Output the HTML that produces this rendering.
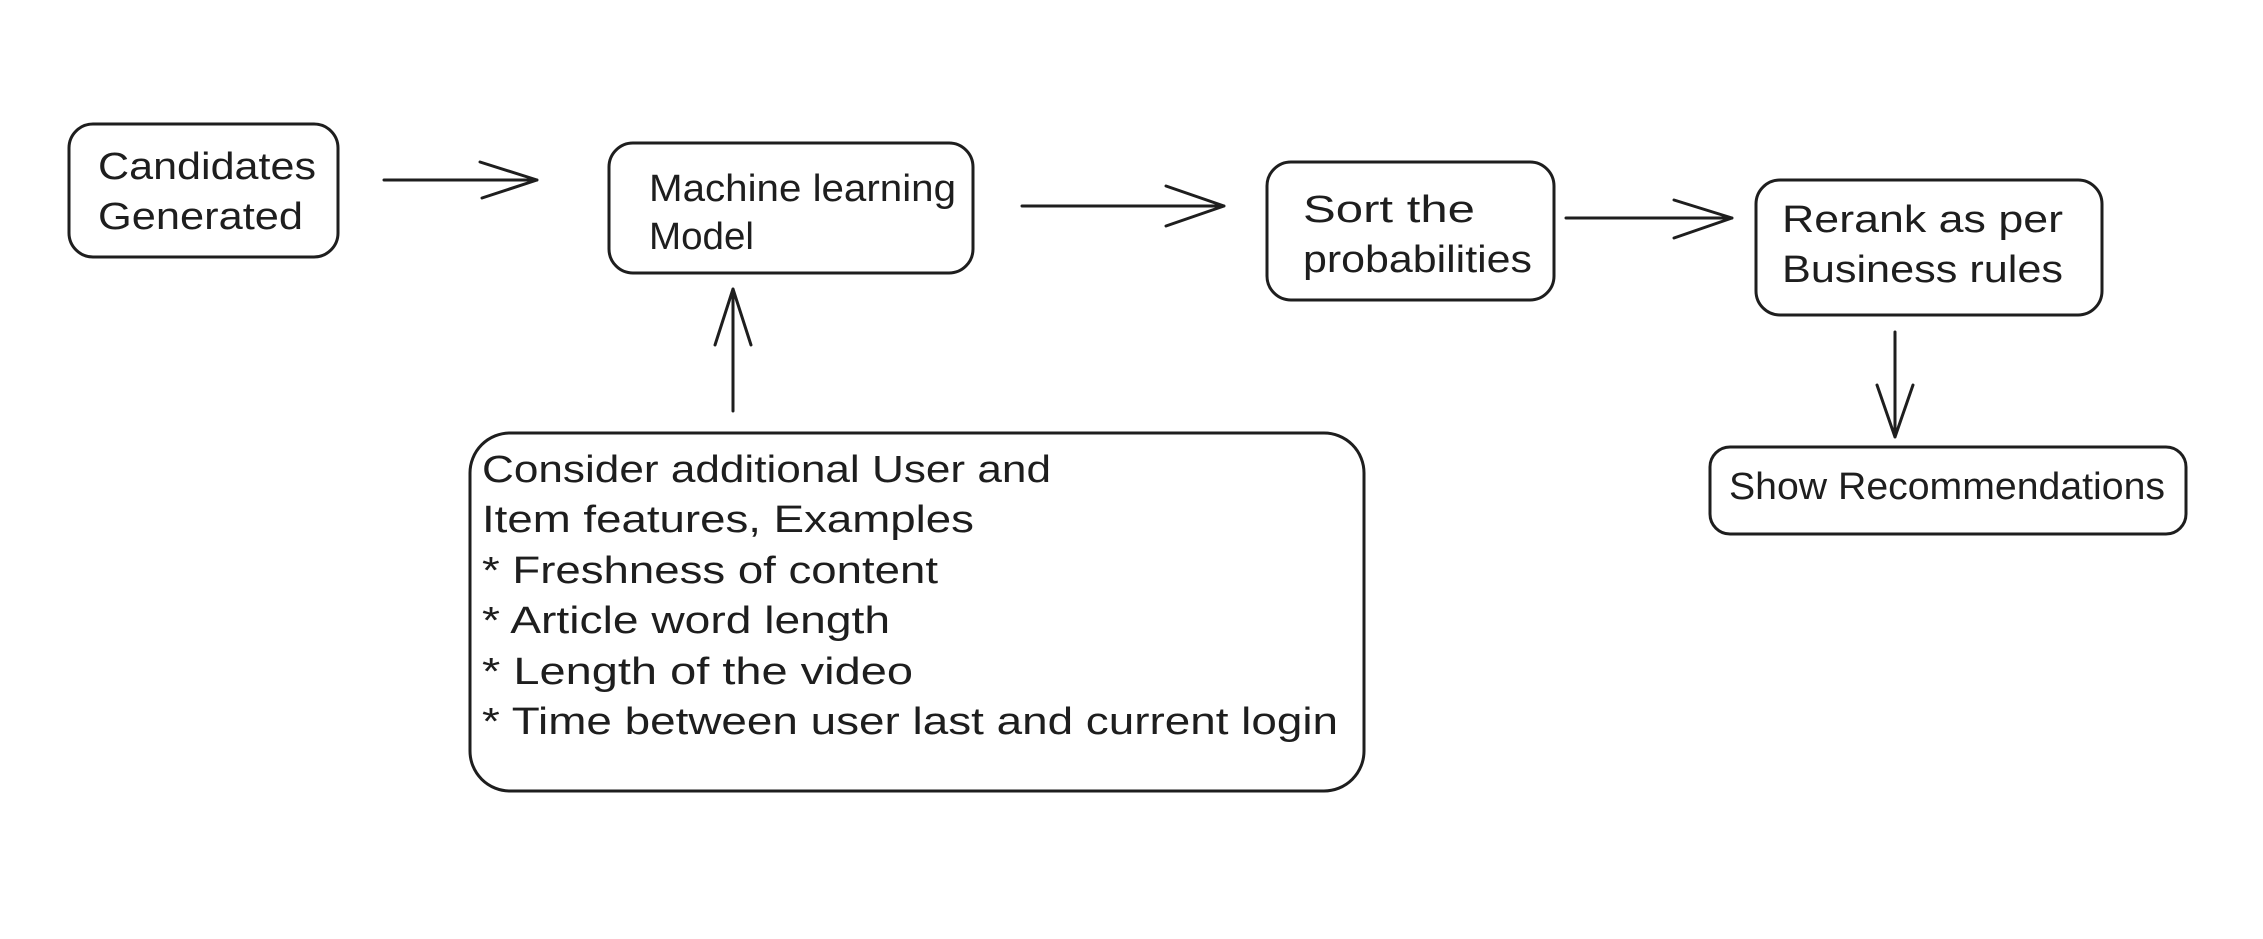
<!DOCTYPE html>
<html><head><meta charset="utf-8"><style>
html,body{margin:0;padding:0;background:#fff;}
svg{display:block;}
text{font-family:"Liberation Sans",sans-serif;font-size:38px;fill:#1e1e1e;}
</style></head><body>
<svg width="2263" height="939" viewBox="0 0 2263 939" xmlns="http://www.w3.org/2000/svg">
<g fill="none" stroke="#1e1e1e" stroke-width="3" stroke-linecap="round" stroke-linejoin="round">
<rect x="69" y="124" width="269" height="133" rx="24"/>
<rect x="609" y="143" width="364" height="130" rx="24"/>
<rect x="1267" y="162" width="287" height="138" rx="24"/>
<rect x="1756" y="180" width="346" height="135" rx="24"/>
<rect x="1710" y="447" width="476" height="87" rx="20"/>
<rect x="470" y="433" width="894" height="358" rx="40"/>
<path d="M384 180 L537 180 M537 180 L480 162 M537 180 L482 198"/>
<path d="M1022 206 L1224 206 M1224 206 L1166 186 M1224 206 L1166 226"/>
<path d="M1566 218 L1732 218 M1732 218 L1674 200 M1732 218 L1674 238"/>
<path d="M1895 332 L1895 437 M1895 437 L1877 385 M1895 437 L1913 385"/>
<path d="M733 411 L733 289 M733 289 L715 345 M733 289 L751 345"/>
</g>
<text x="98" y="179" textLength="218" lengthAdjust="spacingAndGlyphs">Candidates</text>
<text x="98" y="229" textLength="205" lengthAdjust="spacingAndGlyphs">Generated</text>
<text x="649" y="201" textLength="307" lengthAdjust="spacingAndGlyphs">Machine learning</text>
<text x="649" y="249" textLength="105" lengthAdjust="spacingAndGlyphs">Model</text>
<text x="1303" y="222" textLength="172" lengthAdjust="spacingAndGlyphs">Sort the</text>
<text x="1303" y="272" textLength="229" lengthAdjust="spacingAndGlyphs">probabilities</text>
<text x="1782" y="232" textLength="281" lengthAdjust="spacingAndGlyphs">Rerank as per</text>
<text x="1782" y="282" textLength="281" lengthAdjust="spacingAndGlyphs">Business rules</text>
<text x="1729" y="499" textLength="436" lengthAdjust="spacingAndGlyphs">Show Recommendations</text>
<text x="482" y="482" textLength="569" lengthAdjust="spacingAndGlyphs">Consider additional User and</text>
<text x="482" y="532" textLength="492" lengthAdjust="spacingAndGlyphs">Item features, Examples</text>
<text x="482" y="583" textLength="456" lengthAdjust="spacingAndGlyphs">* Freshness of content</text>
<text x="482" y="633" textLength="408" lengthAdjust="spacingAndGlyphs">* Article word length</text>
<text x="482" y="684" textLength="431" lengthAdjust="spacingAndGlyphs">* Length of the video</text>
<text x="482" y="734" textLength="856" lengthAdjust="spacingAndGlyphs">* Time between user last and current login</text>
</svg>
</body></html>
